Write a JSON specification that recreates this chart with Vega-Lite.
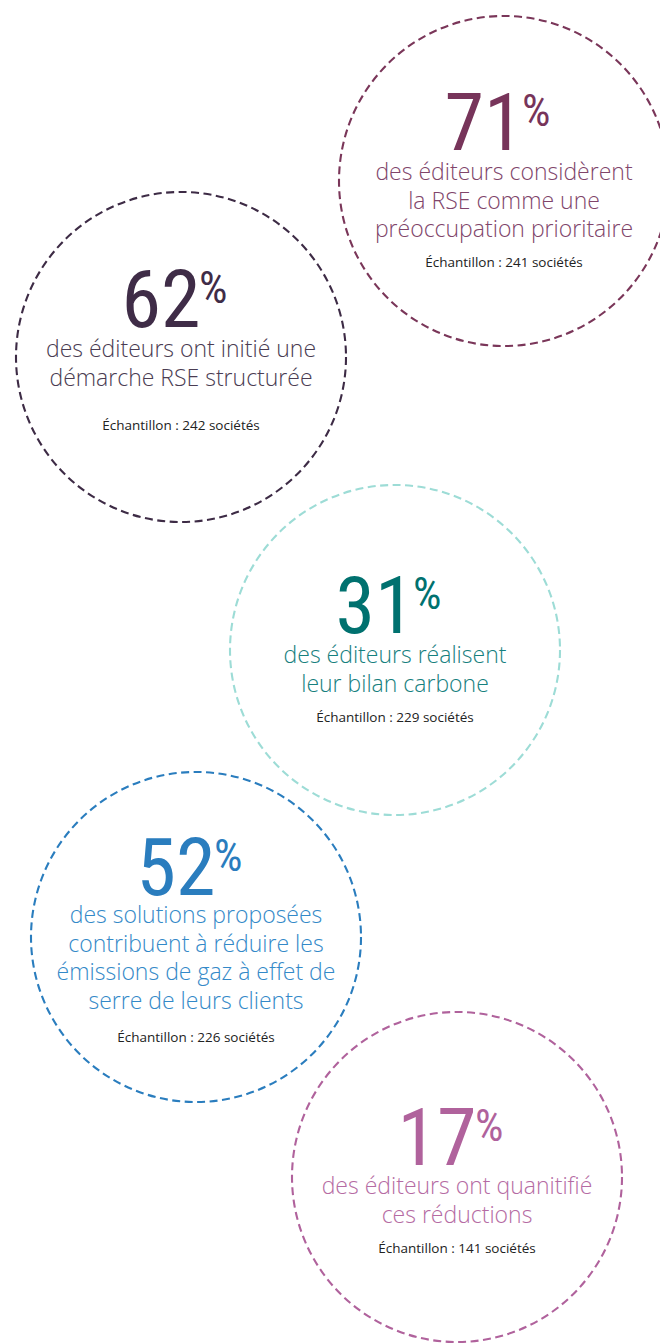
{
  "$schema": "https://vega.github.io/schema/vega-lite/v6.json",
  "width": 660,
  "height": 1343,
  "autosize": {"type": "none"},
  "padding": 0,
  "background": "white",
  "config": {"view": {"stroke": null}},
  "data": {
    "values": [
      {"id": "rse_prio", "pct": 71, "cx": 504, "cy": 181, "numY": 150, "descY": 180,
       "desc": ["des éditeurs considèrent", "la RSE comme une", "préoccupation prioritaire"],
       "sampleY": 267, "sample": "Échantillon : 241 sociétés"},
      {"id": "rse_struct", "pct": 62, "cx": 181, "cy": 357, "numY": 327, "descY": 357,
       "desc": ["des éditeurs ont initié une", "démarche RSE structurée"],
       "sampleY": 430, "sample": "Échantillon : 242 sociétés"},
      {"id": "bilan", "pct": 31, "cx": 395, "cy": 650, "numY": 633, "descY": 663,
       "desc": ["des éditeurs réalisent", "leur bilan carbone"],
       "sampleY": 722, "sample": "Échantillon : 229 sociétés"},
      {"id": "ges", "pct": 52, "cx": 196, "cy": 937, "numY": 895, "descY": 923,
       "desc": ["des solutions proposées", "contribuent à réduire les", "émissions de gaz à effet de", "serre de leurs clients"],
       "sampleY": 1042, "sample": "Échantillon : 226 sociétés"},
      {"id": "quant", "pct": 17, "cx": 457, "cy": 1177, "numY": 1165, "descY": 1194,
       "desc": ["des éditeurs ont quanitifié", "ces réductions"],
       "sampleY": 1253, "sample": "Échantillon : 141 sociétés"}
    ]
  },
  "encoding": {
    "x": {"field": "cx", "type": "quantitative", "scale": {"domain": [0, 660], "nice": false, "zero": false}, "axis": null},
    "color": {"field": "id", "type": "nominal", "legend": null,
      "scale": {"domain": ["rse_prio", "rse_struct", "bilan", "ges", "quant"], "range": ["#77345a", "#3f2c47", "#00716f", "#2a7dbe", "#b0629c"]}}
  },
  "layer": [
    {
      "mark": {"type": "point", "shape": "circle", "filled": false, "size": 108900, "strokeWidth": 2.1, "strokeDash": [8, 4.5], "opacity": 1},
      "encoding": {
        "y": {"field": "cy", "type": "quantitative", "scale": {"domain": [0, 1343], "nice": false, "zero": false, "reverse": true}, "axis": null},
        "color": {"value": null},
        "stroke": {"field": "id", "type": "nominal", "legend": null,
          "scale": {"domain": ["rse_prio", "rse_struct", "bilan", "ges", "quant"], "range": ["#7a3659", "#3d2b45", "#9ddcd6", "#2a7dbe", "#b0629c"]}}
      }
    },
    {
      "mark": {"type": "text", "align": "center", "baseline": "alphabetic", "dx": -20, "font": "Roboto Condensed, DejaVu Sans Condensed, sans-serif", "fontSize": 80},
      "encoding": {"y": {"field": "numY", "type": "quantitative"}, "text": {"field": "pct", "type": "quantitative"}}
    },
    {
      "mark": {"type": "text", "align": "left", "baseline": "alphabetic", "dx": 18, "dy": -24, "font": "Roboto Condensed, DejaVu Sans Condensed, sans-serif", "fontSize": 45},
      "encoding": {
        "y": {"field": "numY", "type": "quantitative"},
        "text": {"value": "%"}
      }
    },
    {
      "mark": {"type": "text", "align": "center", "baseline": "alphabetic", "font": "Open Sans", "fontWeight": 300, "fontSize": 23, "lineHeight": 28.7},
      "encoding": {
        "y": {"field": "descY", "type": "quantitative"},
        "text": {"field": "desc"},
        "color": {"value": null},
        "fill": {"field": "id", "type": "nominal", "legend": null,
          "scale": {"domain": ["rse_prio", "rse_struct", "bilan", "ges", "quant"], "range": ["#80456a", "#4a3c52", "#16807e", "#3389c8", "#b56ba3"]}}
      }
    },
    {
      "mark": {"type": "text", "align": "center", "baseline": "alphabetic", "font": "Open Sans", "fontSize": 13.5},
      "encoding": {
        "y": {"field": "sampleY", "type": "quantitative"},
        "text": {"field": "sample"},
        "color": {"value": "#222222"}
      }
    }
  ]
}
